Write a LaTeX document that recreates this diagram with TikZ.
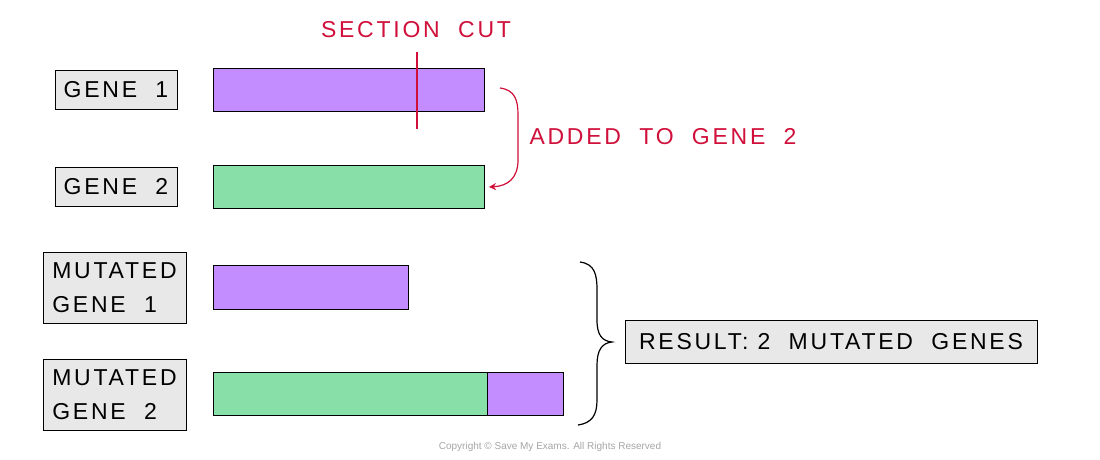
\documentclass[tikz,border=0pt]{standalone}
\usepackage{fontspec}
\setmainfont{Liberation Sans}[LetterSpace=12]
\newfontfamily\cpfont{Liberation Sans}
\usetikzlibrary{arrows.meta}
\definecolor{pur}{HTML}{C38CFF}
\definecolor{grn}{HTML}{88E0A8}
\definecolor{lab}{HTML}{E8E8E8}
\definecolor{red1}{HTML}{D0103A}
\begin{document}
\begin{tikzpicture}[x=1pt,y=-1pt,
  tx/.style={font=\fontsize{23}{34}\selectfont},
  lbl/.style={tx,draw=black,fill=lab,line width=0.9pt,align=left,inner sep=0pt},
  bar/.style={draw=black,line width=0.9pt}]
\useasboundingbox (0,0) rectangle (1100,459);
\fill[white] (0,0) rectangle (1100,459);
% labels
\node[lbl,minimum width=122pt,minimum height=39pt] (g1) at (116,89.5) {GENE\ \ 1};
\node[lbl,minimum width=122pt,minimum height=39pt] (g2) at (116,186.5) {GENE\ \ 2};
\node[lbl,minimum width=143pt,minimum height=71pt] (m1) at (114.5,287.5) {MUTATED\\GENE\ \ 1};
\node[lbl,minimum width=143pt,minimum height=71pt] (m2) at (114.5,394.5) {MUTATED\\GENE\ \ 2};
\node[lbl,minimum width=412pt,minimum height=43pt] (res) at (831,341.5) {RESULT:\ 2\ \ MUTATED\ \ GENES};
% bars
\draw[bar,fill=pur] (213,68) rectangle (484,111);
\draw[bar,fill=grn] (213,165) rectangle (484,208);
\draw[bar,fill=pur] (213,265) rectangle (408,309);
\draw[bar,fill=grn] (213,372) rectangle (487,415);
\draw[bar,fill=pur] (487,372) rectangle (563,415);
% section cut
\coordinate (c1) at (417,52);
\coordinate (c2) at (417,129);
\draw[red1,line width=1.5pt] (c1) -- (c2);
\node[red1,tx] (sc) at (416,30) {SECTION\ \ CUT};
% added arrow
\coordinate (a1) at (500,88);
\coordinate (a2) at (489,187);
\draw[red1,line width=1.2pt,-{Stealth[length=7pt,width=7pt]}] (a1) .. controls (515,90) and (518,100) .. (518,115) -- (518,160) .. controls (518,178) and (508,186) .. (a2);
\node[red1,tx,anchor=west] (ad) at (526,137) {ADDED\ \ TO\ \ GENE\ \ 2};
% brace
\draw[black,line width=1.2pt] (580,262) .. controls (595,264) and (597,275) .. (597,290) -- (597,320) .. controls (597,335) and (602,341) .. (612,342) .. controls (602,343) and (597,350) .. (597,365) -- (597,400) .. controls (597,415) and (592,423) .. (578,425);
\node[gray!70,font=\cpfont\fontsize{10}{12}\selectfont] (cp) at (550,447) {Copyright © Save My Exams. All Rights Reserved};
\end{tikzpicture}
\end{document}
